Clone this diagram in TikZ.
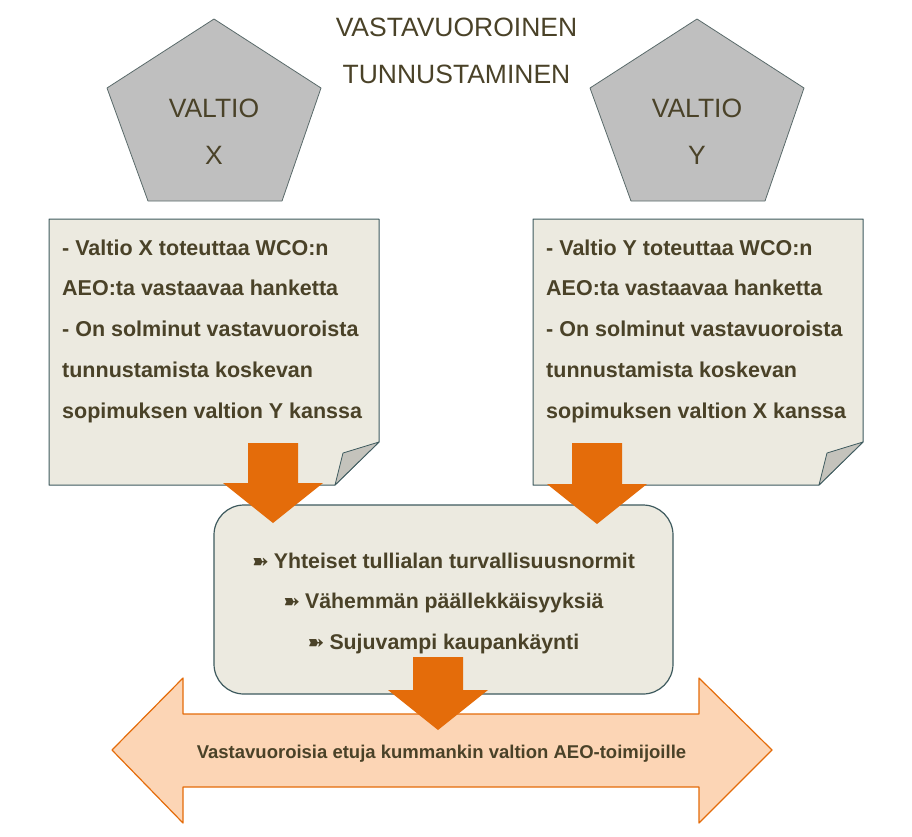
\documentclass[tikz,border=0pt]{standalone}
\usepackage{fontspec}
\setmainfont{Liberation Sans}
\newfontfamily\symfont{DejaVu Sans}
\usepackage{tikz}
\usetikzlibrary{calc}
\usetikzlibrary{positioning}
\definecolor{textbrown}{RGB}{74,66,40}
\definecolor{notefill}{RGB}{236,234,224}
\definecolor{noteline}{RGB}{62,90,94}
\definecolor{foldgrey}{RGB}{196,195,188}
\definecolor{stategrey}{RGB}{191,191,191}
\definecolor{stateline}{RGB}{90,106,106}
\definecolor{flowred}{RGB}{228,108,10}
\definecolor{gainfill}{RGB}{252,213,181}
\newcommand{\arrowbullet}{{\symfont\fontsize{20}{20}\selectfont ➽}\hspace{5pt}}

\begin{document}
\begin{tikzpicture}[x=1pt,y=-1pt,inner sep=0pt,node distance=483pt,on grid]
			\tikzset{state/.style={fill=stategrey,draw=stateline,line width=0.8pt,line join=round}}
			\tikzset{note/.style={fill=notefill,draw=noteline,line width=1pt,line join=round}}
			\tikzset{fold/.style={fill=foldgrey,draw=noteline,line width=0.8pt,line join=round}}
			\tikzset{flow/.style={fill=flowred,draw=none}}
			\tikzset{gain/.style={fill=gainfill,draw=flowred,line width=1.2pt,line join=round}}
			\tikzset{bigtext/.style={text=textbrown,align=center,anchor=base,font=\fontsize{26.5}{46.5}\selectfont}}
			\tikzset{notetext/.style={text=textbrown,align=left,anchor=base west,font=\bfseries\fontsize{21.5}{40.7}\selectfont}}
			\tikzset{benefits/.style={fill=notefill,draw=noteline,line width=1.2pt,rounded corners=30pt,minimum width=459pt,minimum height=189pt}}
			\tikzset{benefittext/.style={text=textbrown,align=center,anchor=base,font=\bfseries\fontsize{21.3}{40.5}\selectfont}}
			\useasboundingbox (0,0) rectangle (912,836);
			% Draw shapes
			\foreach \dx in {0,483}
			\draw[state] (214+\dx,19) -- (321+\dx,88) -- (282+\dx,201) -- (148+\dx,201) -- (107+\dx,88) -- cycle;
			\foreach \dx in {0,484} {
				\draw[note] (49+\dx,219) -- (379+\dx,219) -- (379+\dx,442) -- (335+\dx,485) -- (49+\dx,485) -- cycle;
				\draw[fold] (379+\dx,442) -- (343+\dx,453) -- (335+\dx,485) -- cycle;
			}
			\draw[gain] (112,750) -- (183,678) -- (183,714) -- (699,714) -- (699,678) -- (772,750)
			-- (699,823) -- (699,787) -- (183,787) -- (183,823) -- cycle;
			% Place Nodes
			\node[bigtext] (TITLE) at (456.5,83) {VASTAVUOROINEN\\TUNNUSTAMINEN};
			\node[bigtext] (STATEX) at (214,164) {VALTIO\\X};
			\node[bigtext] (STATEY) [right=of STATEX] {VALTIO\\Y};
			\node[notetext] (NOTEX) at (62,418) {- Valtio X toteuttaa WCO:n\\AEO:ta vastaavaa hanketta\\- On solminut vastavuoroista\\tunnustamista koskevan\\sopimuksen valtion Y kanssa};
			\node[notetext] (NOTEY) at (546,418) {- Valtio Y toteuttaa WCO:n\\AEO:ta vastaavaa hanketta\\- On solminut vastavuoroista\\tunnustamista koskevan\\sopimuksen valtion X kanssa};
			\node[benefits] (GAIN) at (443.5,599.5) {};
			\node[benefittext] (GAINTEXT) at (443.5,649) {\arrowbullet Yhteiset tullialan turvallisuusnormit\\\arrowbullet Vähemmän päällekkäisyyksiä\\\arrowbullet Sujuvampi kaupankäynti};
			\node[text=textbrown,anchor=base,font=\bfseries\fontsize{18.5}{20}\selectfont] (SHARED) at (441.5,758) {Vastavuoroisia etuja kummankin valtion AEO-toimijoille};
			% Draw flow arrows
			\foreach \x/\top/\tip in {273/443/523,597/443/524,438/657/730}
			\fill[flow] (\x-25,\top) -- (\x+25,\top) -- (\x+25,\tip-40) -- (\x+50,\tip-40) -- (\x,\tip)
			-- (\x-50,\tip-40) -- (\x-25,\tip-40) -- cycle;
\end{tikzpicture}
\end{document}
